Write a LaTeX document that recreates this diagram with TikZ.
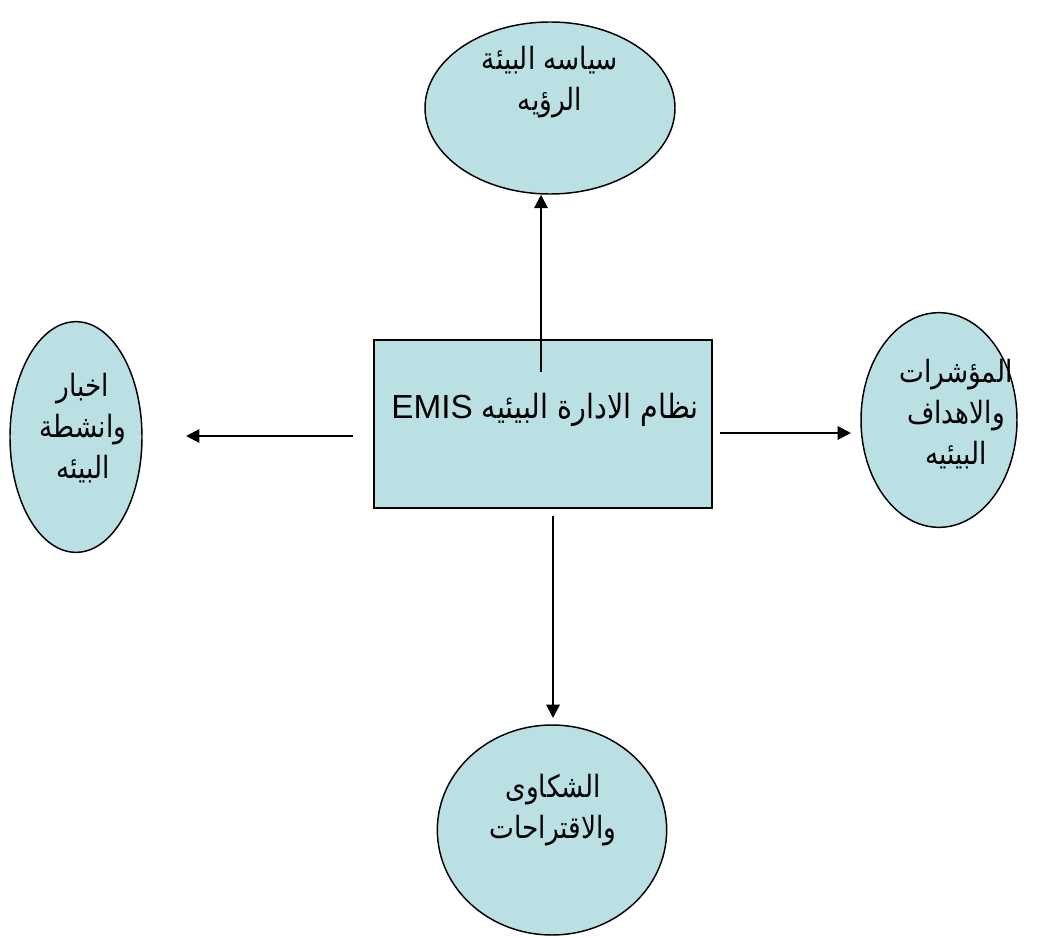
\documentclass[tikz,border=0pt]{standalone}
\usepackage{fontspec}
\setmainfont{Liberation Sans}
\newfontfamily\arabicfont[Script=Arabic, FakeStretch=0.86]{DejaVu Sans}
\TeXXeTstate=1
\usetikzlibrary{arrows.meta,shapes.geometric}
\definecolor{paleblue}{RGB}{187,224,227}

\begin{document}
\begin{tikzpicture}[x=0.75pt, y=-0.75pt,
    bubble/.style={ellipse, draw, line width=1.1pt, fill=paleblue, inner sep=0pt},
    words/.style={align=center, inner sep=0pt, font=\fontsize{23}{31}\selectfont\arabicfont},
    link/.style={line width=1.5pt, -{Triangle[length=10pt, width=10pt]}}]
      \useasboundingbox (0,0) rectangle (1043,938);
      % centre box and the four ellipses
      \node[draw, line width=1.1pt, fill=paleblue, minimum width=253.5pt, minimum height=126pt] (hub) at (543,424) {};
      \node[bubble, minimum width=187.5pt, minimum height=129pt] (vision) at (550,108) {};
      \node[bubble, minimum width=99pt, minimum height=173pt] (news) at (76,437) {};
      \node[bubble, minimum width=117pt, minimum height=161pt] (goals) at (939,420) {};
      \node[bubble, minimum width=172pt, minimum height=157.5pt] (complaints) at (552,830) {};
      % texts
      \node[words, font=\fontsize{25}{31}\selectfont\arabicfont] (hubtext) at (545,410) {\beginR نظام الادارة البيئيه \beginL{\rmfamily EMIS}\endL\endR};
      \node[words] (visiontext) at (550,82) {\beginR سياسه البيئة\endR\\\beginR الرؤيه\endR};
      \node[words] (newstext) at (83,428) {\beginR اخبار\endR\\\beginR وانشطة\endR\\\beginR البيئه\endR};
      \node[words] (goalstext) at (956,414) {\beginR المؤشرات\endR\\\beginR والاهداف\endR\\\beginR البيئيه\endR};
      \node[words] (complaintstext) at (553,810) {\beginR الشكاوى\endR\\\beginR والاقتراحات\endR};
      % arrows
      \coordinate (upstart) at (541,372);
      \coordinate (leftstart) at (353,436);
      \coordinate (lefttip) at (186,436);
      \coordinate (rightstart) at (720,433);
      \coordinate (righttip) at (851,433);
      \coordinate (downstart) at (553,516);
      \coordinate (downtip) at (553,718);
      \draw[link] (upstart) -- (upstart |- vision.south);
      \draw[link] (leftstart) -- (lefttip);
      \draw[link] (rightstart) -- (righttip);
      \draw[link] (downstart) -- (downtip);
\end{tikzpicture}
\end{document}
